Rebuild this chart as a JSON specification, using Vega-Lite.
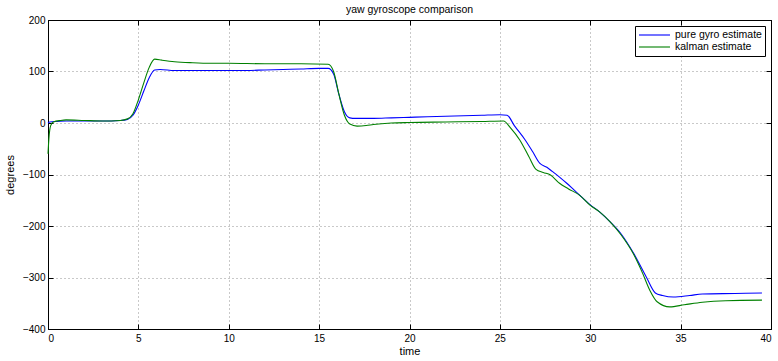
{
  "$schema": "https://vega.github.io/schema/vega-lite/v6.json",
  "width": 723,
  "height": 309,
  "autosize": {"type": "none"},
  "padding": {"left": 48, "top": 20, "right": 7, "bottom": 32},
  "background": "white",
  "title": {"text": "yaw gyroscope comparison", "fontSize": 10.5, "fontWeight": "normal", "font": "Liberation Sans", "offset": 0, "color": "black"},
  "config": {
    "view": {"stroke": "black", "strokeWidth": 1},
    "axis": {
      "labelFont": "Liberation Sans", "titleFont": "Liberation Sans",
      "labelFontSize": 10, "titleFontSize": 11, "titleFontWeight": "normal",
      "labelColor": "black", "titleColor": "black",
      "domainColor": "black", "tickColor": "black",
      "gridColor": "#888888", "gridDash": [1, 3], "gridOpacity": 0.9,
      "tickSize": -5
    }
  },
  "datasets": {
    "d": [
      {"t": 0, "v": 0, "s": "pure gyro estimate"},
      {"t": 0.1, "v": 2, "s": "pure gyro estimate"},
      {"t": 0.5, "v": 3, "s": "pure gyro estimate"},
      {"t": 1, "v": 4, "s": "pure gyro estimate"},
      {"t": 2, "v": 4, "s": "pure gyro estimate"},
      {"t": 3, "v": 4, "s": "pure gyro estimate"},
      {"t": 4, "v": 5, "s": "pure gyro estimate"},
      {"t": 4.4, "v": 7, "s": "pure gyro estimate"},
      {"t": 4.7, "v": 15, "s": "pure gyro estimate"},
      {"t": 5, "v": 35, "s": "pure gyro estimate"},
      {"t": 5.3, "v": 62, "s": "pure gyro estimate"},
      {"t": 5.6, "v": 88, "s": "pure gyro estimate"},
      {"t": 5.9, "v": 103, "s": "pure gyro estimate"},
      {"t": 6.2, "v": 104, "s": "pure gyro estimate"},
      {"t": 7, "v": 102, "s": "pure gyro estimate"},
      {"t": 8, "v": 102, "s": "pure gyro estimate"},
      {"t": 9, "v": 102, "s": "pure gyro estimate"},
      {"t": 10, "v": 102, "s": "pure gyro estimate"},
      {"t": 11, "v": 102, "s": "pure gyro estimate"},
      {"t": 12, "v": 103, "s": "pure gyro estimate"},
      {"t": 13, "v": 104, "s": "pure gyro estimate"},
      {"t": 14, "v": 105, "s": "pure gyro estimate"},
      {"t": 15, "v": 106, "s": "pure gyro estimate"},
      {"t": 15.5, "v": 106, "s": "pure gyro estimate"},
      {"t": 15.8, "v": 95, "s": "pure gyro estimate"},
      {"t": 16.1, "v": 55, "s": "pure gyro estimate"},
      {"t": 16.4, "v": 22, "s": "pure gyro estimate"},
      {"t": 16.7, "v": 10, "s": "pure gyro estimate"},
      {"t": 17, "v": 9, "s": "pure gyro estimate"},
      {"t": 18, "v": 9, "s": "pure gyro estimate"},
      {"t": 19, "v": 10, "s": "pure gyro estimate"},
      {"t": 20, "v": 11, "s": "pure gyro estimate"},
      {"t": 21, "v": 12, "s": "pure gyro estimate"},
      {"t": 22, "v": 13, "s": "pure gyro estimate"},
      {"t": 23, "v": 14, "s": "pure gyro estimate"},
      {"t": 24, "v": 15, "s": "pure gyro estimate"},
      {"t": 25, "v": 16, "s": "pure gyro estimate"},
      {"t": 25.4, "v": 15, "s": "pure gyro estimate"},
      {"t": 25.8, "v": -5, "s": "pure gyro estimate"},
      {"t": 26.4, "v": -33, "s": "pure gyro estimate"},
      {"t": 26.8, "v": -55, "s": "pure gyro estimate"},
      {"t": 27.2, "v": -78, "s": "pure gyro estimate"},
      {"t": 27.6, "v": -86, "s": "pure gyro estimate"},
      {"t": 27.9, "v": -94, "s": "pure gyro estimate"},
      {"t": 28.3, "v": -105, "s": "pure gyro estimate"},
      {"t": 28.7, "v": -117, "s": "pure gyro estimate"},
      {"t": 29.1, "v": -130, "s": "pure gyro estimate"},
      {"t": 29.5, "v": -143, "s": "pure gyro estimate"},
      {"t": 30, "v": -159, "s": "pure gyro estimate"},
      {"t": 30.5, "v": -172, "s": "pure gyro estimate"},
      {"t": 31.1, "v": -192, "s": "pure gyro estimate"},
      {"t": 31.7, "v": -215, "s": "pure gyro estimate"},
      {"t": 32.4, "v": -253, "s": "pure gyro estimate"},
      {"t": 33.1, "v": -299, "s": "pure gyro estimate"},
      {"t": 33.6, "v": -330, "s": "pure gyro estimate"},
      {"t": 34, "v": -335, "s": "pure gyro estimate"},
      {"t": 34.6, "v": -338, "s": "pure gyro estimate"},
      {"t": 35.5, "v": -335, "s": "pure gyro estimate"},
      {"t": 36.2, "v": -332, "s": "pure gyro estimate"},
      {"t": 38, "v": -331, "s": "pure gyro estimate"},
      {"t": 39.5, "v": -330, "s": "pure gyro estimate"},
      {"t": 0, "v": -60, "s": "kalman estimate"},
      {"t": 0.05, "v": -30, "s": "kalman estimate"},
      {"t": 0.15, "v": -5, "s": "kalman estimate"},
      {"t": 0.3, "v": 2, "s": "kalman estimate"},
      {"t": 0.7, "v": 5, "s": "kalman estimate"},
      {"t": 1, "v": 6, "s": "kalman estimate"},
      {"t": 2, "v": 5, "s": "kalman estimate"},
      {"t": 3, "v": 4, "s": "kalman estimate"},
      {"t": 4, "v": 5, "s": "kalman estimate"},
      {"t": 4.4, "v": 8, "s": "kalman estimate"},
      {"t": 4.7, "v": 18, "s": "kalman estimate"},
      {"t": 5, "v": 45, "s": "kalman estimate"},
      {"t": 5.3, "v": 78, "s": "kalman estimate"},
      {"t": 5.6, "v": 108, "s": "kalman estimate"},
      {"t": 5.9, "v": 124, "s": "kalman estimate"},
      {"t": 6.3, "v": 122, "s": "kalman estimate"},
      {"t": 7, "v": 119, "s": "kalman estimate"},
      {"t": 8, "v": 117, "s": "kalman estimate"},
      {"t": 9, "v": 116, "s": "kalman estimate"},
      {"t": 10, "v": 116, "s": "kalman estimate"},
      {"t": 12, "v": 115, "s": "kalman estimate"},
      {"t": 14, "v": 115, "s": "kalman estimate"},
      {"t": 15.5, "v": 114, "s": "kalman estimate"},
      {"t": 15.8, "v": 100, "s": "kalman estimate"},
      {"t": 16.1, "v": 55, "s": "kalman estimate"},
      {"t": 16.4, "v": 15, "s": "kalman estimate"},
      {"t": 16.7, "v": -2, "s": "kalman estimate"},
      {"t": 17.1, "v": -6, "s": "kalman estimate"},
      {"t": 17.6, "v": -5, "s": "kalman estimate"},
      {"t": 18, "v": -3, "s": "kalman estimate"},
      {"t": 19, "v": 0, "s": "kalman estimate"},
      {"t": 20, "v": 1, "s": "kalman estimate"},
      {"t": 22, "v": 2, "s": "kalman estimate"},
      {"t": 24, "v": 3, "s": "kalman estimate"},
      {"t": 25.2, "v": 4, "s": "kalman estimate"},
      {"t": 25.6, "v": -10, "s": "kalman estimate"},
      {"t": 26.1, "v": -33, "s": "kalman estimate"},
      {"t": 26.6, "v": -65, "s": "kalman estimate"},
      {"t": 27, "v": -90, "s": "kalman estimate"},
      {"t": 27.4, "v": -96, "s": "kalman estimate"},
      {"t": 27.8, "v": -101, "s": "kalman estimate"},
      {"t": 28.3, "v": -117, "s": "kalman estimate"},
      {"t": 28.8, "v": -128, "s": "kalman estimate"},
      {"t": 29.4, "v": -140, "s": "kalman estimate"},
      {"t": 30, "v": -160, "s": "kalman estimate"},
      {"t": 30.5, "v": -172, "s": "kalman estimate"},
      {"t": 31.1, "v": -192, "s": "kalman estimate"},
      {"t": 31.7, "v": -217, "s": "kalman estimate"},
      {"t": 32.4, "v": -255, "s": "kalman estimate"},
      {"t": 32.9, "v": -292, "s": "kalman estimate"},
      {"t": 33.3, "v": -325, "s": "kalman estimate"},
      {"t": 33.7, "v": -347, "s": "kalman estimate"},
      {"t": 34.4, "v": -357, "s": "kalman estimate"},
      {"t": 35.2, "v": -353, "s": "kalman estimate"},
      {"t": 36.2, "v": -348, "s": "kalman estimate"},
      {"t": 37.5, "v": -345, "s": "kalman estimate"},
      {"t": 39.5, "v": -344, "s": "kalman estimate"}
    ]
  },
  "data": {"name": "d"},
  "layer": [
    {
      "mark": {"type": "line", "strokeWidth": 1.1, "interpolate": "monotone"},
      "encoding": {
        "x": {"field": "t", "type": "quantitative", "scale": {"domain": [0, 40], "nice": false},
              "axis": {"title": "time", "values": [0,5,10,15,20,25,30,35,40], "labelPadding": 9, "titlePadding": 2}},
        "y": {"field": "v", "type": "quantitative", "scale": {"domain": [-400, 200], "nice": false},
              "axis": {"title": "degrees", "values": [-400,-300,-200,-100,0,100,200], "labelPadding": 8, "titlePadding": 7}},
        "color": {"field": "s", "type": "nominal",
                  "scale": {"domain": ["pure gyro estimate", "kalman estimate"], "range": ["#0000ff", "#008000"]},
                  "legend": {"title": null, "orient": "top-right", "symbolType": "stroke", "symbolSize": 960, "symbolStrokeWidth": 1.1,
                             "clipHeight": 12, "rowPadding": 0, "labelOffset": 4,
                             "strokeColor": "black", "fillColor": "white", "padding": 3, "offset": 6,
                             "labelFont": "Liberation Sans", "labelFontSize": 10.5, "labelColor": "black"}},
        "order": {"field": "t", "type": "quantitative"}
      }
    },
    {
      "mark": {"type": "point", "opacity": 0},
      "encoding": {
        "x": {"field": "t", "type": "quantitative", "scale": {"domain": [0, 40], "nice": false},
              "axis": {"orient": "top", "title": null, "labels": false, "grid": false, "values": [0,5,10,15,20,25,30,35,40]}},
        "y": {"field": "v", "type": "quantitative", "scale": {"domain": [-400, 200], "nice": false},
              "axis": {"orient": "right", "title": null, "labels": false, "grid": false, "values": [-400,-300,-200,-100,0,100,200]}}
      }
    }
  ],
  "resolve": {"axis": {"x": "independent", "y": "independent"}}
}
